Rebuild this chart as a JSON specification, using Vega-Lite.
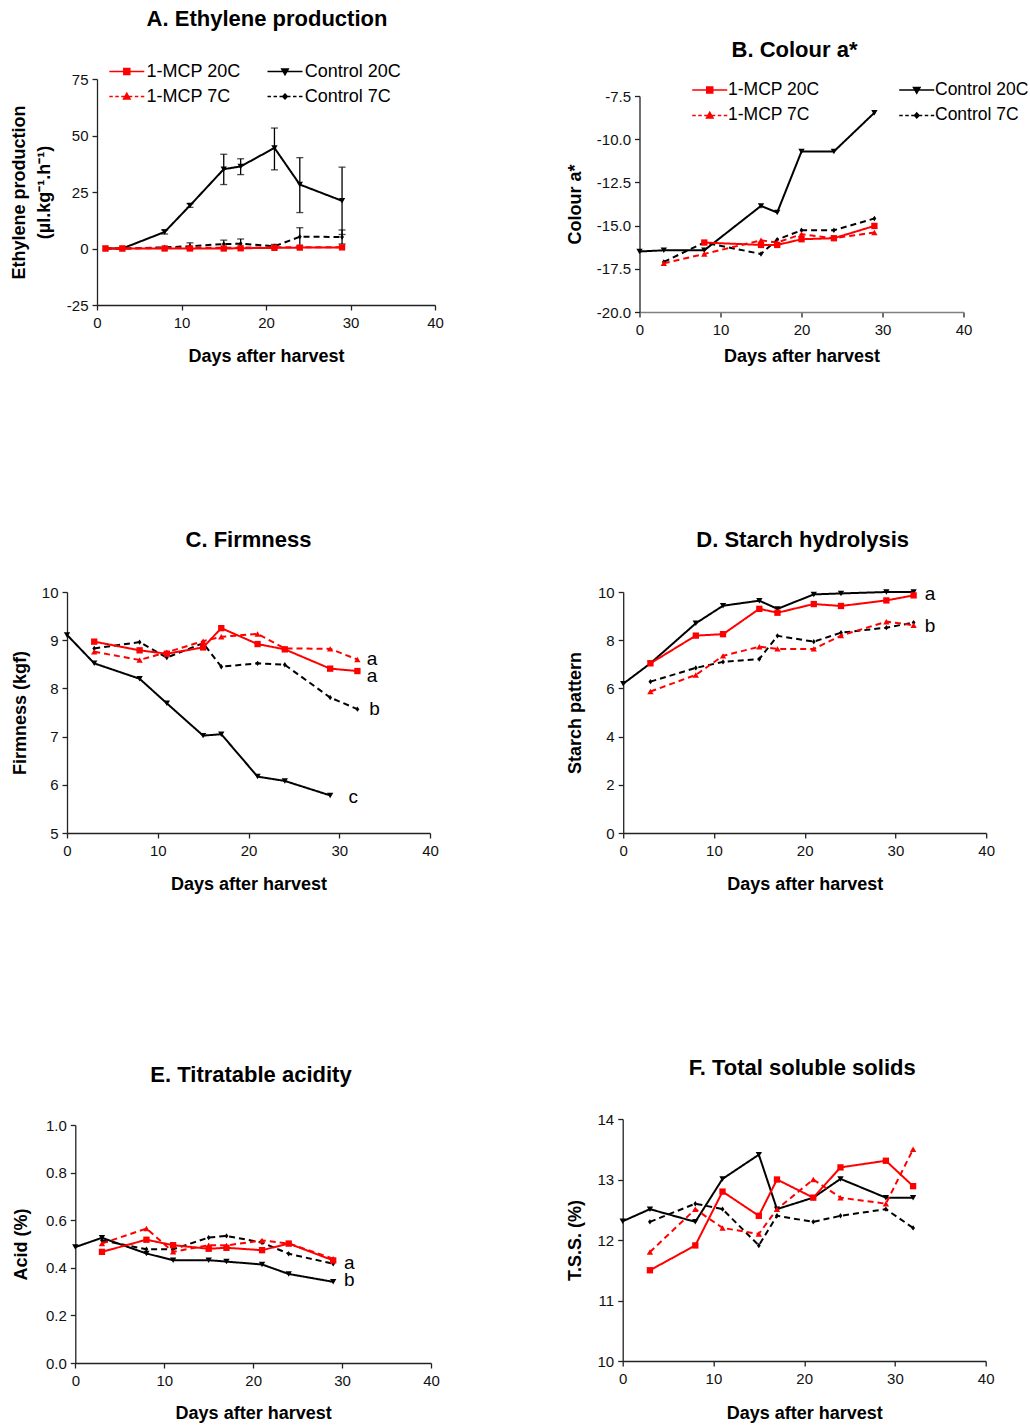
{
"$schema": "https://vega.github.io/schema/vega-lite/v6.json",
"background": "white",
"padding": {"left": 10, "top": 7, "right": 0, "bottom": 0},
"config": {
  "font": "Liberation Sans",
  "locale": {"number": {"decimal": ".", "thousands": ",", "grouping": [3], "currency": ["$", ""], "minus": "-"}},
  "view": {"stroke": null},
  "axis": {"grid": false, "domainColor": "#222222", "tickColor": "#222222", "domainWidth": 1.3, "tickWidth": 1.3, "tickSize": 5, "labelFont": "Liberation Sans", "labelFontSize": 15, "labelColor": "#111111", "titleFont": "Liberation Sans", "titleFontSize": 18, "titleFontWeight": "bold", "titleColor": "#000000"},
  "axisX": {"labelPadding": 5, "titlePadding": 15, "labelFlush": false},
  "axisY": {"labelPadding": 4, "titlePadding": 12},
  "title": {"font": "Liberation Sans", "fontSize": 22, "fontWeight": "bold", "color": "#000000", "anchor": "middle", "frame": "group"}
},
"datasets": {
  "eth": [
    {"s":"Control 20C","d":1,"v":0},{"s":"Control 20C","d":3,"v":0},{"s":"Control 20C","d":8,"v":7.3},{"s":"Control 20C","d":11,"v":19},{"s":"Control 20C","d":15,"v":35.1},{"s":"Control 20C","d":17,"v":36.3},{"s":"Control 20C","d":21,"v":44.5},{"s":"Control 20C","d":24,"v":28.3},{"s":"Control 20C","d":29,"v":21.1},
    {"s":"Control 7C","d":1,"v":0},{"s":"Control 7C","d":3,"v":0},{"s":"Control 7C","d":8,"v":0.5},{"s":"Control 7C","d":11,"v":1},{"s":"Control 7C","d":15,"v":2},{"s":"Control 7C","d":17,"v":2.1},{"s":"Control 7C","d":21,"v":1},{"s":"Control 7C","d":24,"v":5.2},{"s":"Control 7C","d":29,"v":5.1},
    {"s":"1-MCP 7C","d":1,"v":0},{"s":"1-MCP 7C","d":3,"v":0},{"s":"1-MCP 7C","d":8,"v":0.2},{"s":"1-MCP 7C","d":11,"v":0.3},{"s":"1-MCP 7C","d":15,"v":0.3},{"s":"1-MCP 7C","d":17,"v":0.4},{"s":"1-MCP 7C","d":21,"v":0.5},{"s":"1-MCP 7C","d":24,"v":0.6},{"s":"1-MCP 7C","d":29,"v":0.6},
    {"s":"1-MCP 20C","d":1,"v":0},{"s":"1-MCP 20C","d":3,"v":0},{"s":"1-MCP 20C","d":8,"v":0},{"s":"1-MCP 20C","d":11,"v":0},{"s":"1-MCP 20C","d":15,"v":0},{"s":"1-MCP 20C","d":17,"v":0.1},{"s":"1-MCP 20C","d":21,"v":0.3},{"s":"1-MCP 20C","d":24,"v":0.4},{"s":"1-MCP 20C","d":29,"v":0.5}
  ],
  "ethErr": [
    {"s":"Control 20C","d":8,"lo":6.4,"hi":8.2},{"s":"Control 20C","d":11,"lo":18.2,"hi":19.8},{"s":"Control 20C","d":15,"lo":28.3,"hi":41.7},{"s":"Control 20C","d":17,"lo":32.7,"hi":39.7},{"s":"Control 20C","d":21,"lo":34.8,"hi":53.3},{"s":"Control 20C","d":24,"lo":15.9,"hi":40.2},{"s":"Control 20C","d":29,"lo":6.2,"hi":36},
    {"s":"Control 7C","d":11,"lo":-0.5,"hi":2.5},{"s":"Control 7C","d":15,"lo":0.3,"hi":3.7},{"s":"Control 7C","d":17,"lo":0,"hi":4.2},{"s":"Control 7C","d":21,"lo":0.2,"hi":1.8},{"s":"Control 7C","d":24,"lo":1.2,"hi":9.2},{"s":"Control 7C","d":29,"lo":2,"hi":8.2}
  ],
  "col": [
    {"s":"Control 20C","d":0,"v":-16.5},{"s":"Control 20C","d":3,"v":-16.43},{"s":"Control 20C","d":8,"v":-16.43},{"s":"Control 20C","d":15,"v":-13.86},{"s":"Control 20C","d":17,"v":-14.24},{"s":"Control 20C","d":20,"v":-10.71},{"s":"Control 20C","d":24,"v":-10.71},{"s":"Control 20C","d":29,"v":-8.47},
    {"s":"Control 7C","d":3,"v":-17.1},{"s":"Control 7C","d":8,"v":-15.98},{"s":"Control 7C","d":15,"v":-16.64},{"s":"Control 7C","d":17,"v":-15.81},{"s":"Control 7C","d":20,"v":-15.27},{"s":"Control 7C","d":24,"v":-15.27},{"s":"Control 7C","d":29,"v":-14.59},
    {"s":"1-MCP 7C","d":3,"v":-17.18},{"s":"1-MCP 7C","d":8,"v":-16.64},{"s":"1-MCP 7C","d":15,"v":-15.85},{"s":"1-MCP 7C","d":17,"v":-15.98},{"s":"1-MCP 7C","d":20,"v":-15.5},{"s":"1-MCP 7C","d":24,"v":-15.73},{"s":"1-MCP 7C","d":29,"v":-15.4},
    {"s":"1-MCP 20C","d":8,"v":-15.98},{"s":"1-MCP 20C","d":15,"v":-16.12},{"s":"1-MCP 20C","d":17,"v":-16.12},{"s":"1-MCP 20C","d":20,"v":-15.79},{"s":"1-MCP 20C","d":24,"v":-15.73},{"s":"1-MCP 20C","d":29,"v":-15.02}
  ],
  "firm": [
    {"s":"Control 20C","d":0,"v":9.11},{"s":"Control 20C","d":3,"v":8.52},{"s":"Control 20C","d":8,"v":8.2},{"s":"Control 20C","d":11,"v":7.69},{"s":"Control 20C","d":15,"v":7.02},{"s":"Control 20C","d":17,"v":7.05},{"s":"Control 20C","d":21,"v":6.17},{"s":"Control 20C","d":24,"v":6.08},{"s":"Control 20C","d":29,"v":5.78},
    {"s":"Control 7C","d":3,"v":8.83},{"s":"Control 7C","d":8,"v":8.96},{"s":"Control 7C","d":11,"v":8.64},{"s":"Control 7C","d":15,"v":8.94},{"s":"Control 7C","d":17,"v":8.45},{"s":"Control 7C","d":21,"v":8.52},{"s":"Control 7C","d":24,"v":8.49},{"s":"Control 7C","d":29,"v":7.81},{"s":"Control 7C","d":32,"v":7.57},
    {"s":"1-MCP 7C","d":3,"v":8.76},{"s":"1-MCP 7C","d":8,"v":8.59},{"s":"1-MCP 7C","d":11,"v":8.75},{"s":"1-MCP 7C","d":15,"v":8.98},{"s":"1-MCP 7C","d":17,"v":9.07},{"s":"1-MCP 7C","d":21,"v":9.13},{"s":"1-MCP 7C","d":24,"v":8.83},{"s":"1-MCP 7C","d":29,"v":8.82},{"s":"1-MCP 7C","d":32,"v":8.6},
    {"s":"1-MCP 20C","d":3,"v":8.97},{"s":"1-MCP 20C","d":8,"v":8.79},{"s":"1-MCP 20C","d":11,"v":8.72},{"s":"1-MCP 20C","d":15,"v":8.85},{"s":"1-MCP 20C","d":17,"v":9.25},{"s":"1-MCP 20C","d":21,"v":8.92},{"s":"1-MCP 20C","d":24,"v":8.81},{"s":"1-MCP 20C","d":29,"v":8.41},{"s":"1-MCP 20C","d":32,"v":8.36}
  ],
  "firmLet": [{"d":33.6,"v":8.49,"t":"a"},{"d":33.6,"v":8.14,"t":"a"},{"d":33.9,"v":7.45,"t":"b"},{"d":31.55,"v":5.63,"t":"c"}],
  "starch": [
    {"s":"Control 20C","d":0,"v":6.19},{"s":"Control 20C","d":3,"v":7.04},{"s":"Control 20C","d":8,"v":8.7},{"s":"Control 20C","d":11,"v":9.43},{"s":"Control 20C","d":15,"v":9.64},{"s":"Control 20C","d":17,"v":9.3},{"s":"Control 20C","d":21,"v":9.9},{"s":"Control 20C","d":24,"v":9.94},{"s":"Control 20C","d":29,"v":10},{"s":"Control 20C","d":32,"v":10},
    {"s":"Control 7C","d":3,"v":6.28},{"s":"Control 7C","d":8,"v":6.85},{"s":"Control 7C","d":11,"v":7.1},{"s":"Control 7C","d":15,"v":7.22},{"s":"Control 7C","d":17,"v":8.18},{"s":"Control 7C","d":21,"v":7.94},{"s":"Control 7C","d":24,"v":8.31},{"s":"Control 7C","d":29,"v":8.52},{"s":"Control 7C","d":32,"v":8.73},
    {"s":"1-MCP 7C","d":3,"v":5.87},{"s":"1-MCP 7C","d":8,"v":6.56},{"s":"1-MCP 7C","d":11,"v":7.35},{"s":"1-MCP 7C","d":15,"v":7.73},{"s":"1-MCP 7C","d":17,"v":7.64},{"s":"1-MCP 7C","d":21,"v":7.64},{"s":"1-MCP 7C","d":24,"v":8.19},{"s":"1-MCP 7C","d":29,"v":8.77},{"s":"1-MCP 7C","d":32,"v":8.62},
    {"s":"1-MCP 20C","d":3,"v":7.04},{"s":"1-MCP 20C","d":8,"v":8.19},{"s":"1-MCP 20C","d":11,"v":8.25},{"s":"1-MCP 20C","d":15,"v":9.3},{"s":"1-MCP 20C","d":17,"v":9.14},{"s":"1-MCP 20C","d":21,"v":9.5},{"s":"1-MCP 20C","d":24,"v":9.42},{"s":"1-MCP 20C","d":29,"v":9.65},{"s":"1-MCP 20C","d":32,"v":9.86}
  ],
  "starchLet": [{"d":33.8,"v":9.67,"t":"a"},{"d":33.8,"v":8.35,"t":"b"}],
  "acid": [
    {"s":"Control 20C","d":0,"v":0.487},{"s":"Control 20C","d":3,"v":0.526},{"s":"Control 20C","d":8,"v":0.46},{"s":"Control 20C","d":11,"v":0.432},{"s":"Control 20C","d":15,"v":0.432},{"s":"Control 20C","d":17,"v":0.426},{"s":"Control 20C","d":21,"v":0.414},{"s":"Control 20C","d":24,"v":0.374},{"s":"Control 20C","d":29,"v":0.341},
    {"s":"Control 7C","d":3,"v":0.515},{"s":"Control 7C","d":8,"v":0.478},{"s":"Control 7C","d":11,"v":0.478},{"s":"Control 7C","d":15,"v":0.527},{"s":"Control 7C","d":17,"v":0.534},{"s":"Control 7C","d":21,"v":0.506},{"s":"Control 7C","d":24,"v":0.459},{"s":"Control 7C","d":29,"v":0.417},
    {"s":"1-MCP 7C","d":3,"v":0.502},{"s":"1-MCP 7C","d":8,"v":0.565},{"s":"1-MCP 7C","d":11,"v":0.467},{"s":"1-MCP 7C","d":15,"v":0.495},{"s":"1-MCP 7C","d":17,"v":0.494},{"s":"1-MCP 7C","d":21,"v":0.515},{"s":"1-MCP 7C","d":24,"v":0.502},{"s":"1-MCP 7C","d":29,"v":0.438},
    {"s":"1-MCP 20C","d":3,"v":0.467},{"s":"1-MCP 20C","d":8,"v":0.518},{"s":"1-MCP 20C","d":11,"v":0.495},{"s":"1-MCP 20C","d":15,"v":0.48},{"s":"1-MCP 20C","d":17,"v":0.484},{"s":"1-MCP 20C","d":21,"v":0.474},{"s":"1-MCP 20C","d":24,"v":0.502},{"s":"1-MCP 20C","d":29,"v":0.431}
  ],
  "acidLet": [{"d":30.8,"v":0.395,"t":"a"},{"d":30.8,"v":0.323,"t":"b"}],
  "tss": [
    {"s":"Control 20C","d":0,"v":12.31},{"s":"Control 20C","d":3,"v":12.51},{"s":"Control 20C","d":8,"v":12.3},{"s":"Control 20C","d":11,"v":13.01},{"s":"Control 20C","d":15,"v":13.41},{"s":"Control 20C","d":17,"v":12.51},{"s":"Control 20C","d":21,"v":12.7},{"s":"Control 20C","d":24,"v":13.01},{"s":"Control 20C","d":29,"v":12.7},{"s":"Control 20C","d":32,"v":12.7},
    {"s":"Control 7C","d":3,"v":12.3},{"s":"Control 7C","d":8,"v":12.6},{"s":"Control 7C","d":11,"v":12.51},{"s":"Control 7C","d":15,"v":11.91},{"s":"Control 7C","d":17,"v":12.4},{"s":"Control 7C","d":21,"v":12.3},{"s":"Control 7C","d":24,"v":12.4},{"s":"Control 7C","d":29,"v":12.51},{"s":"Control 7C","d":32,"v":12.2},
    {"s":"1-MCP 7C","d":3,"v":11.8},{"s":"1-MCP 7C","d":8,"v":12.51},{"s":"1-MCP 7C","d":11,"v":12.2},{"s":"1-MCP 7C","d":15,"v":12.1},{"s":"1-MCP 7C","d":17,"v":12.51},{"s":"1-MCP 7C","d":21,"v":13.0},{"s":"1-MCP 7C","d":24,"v":12.7},{"s":"1-MCP 7C","d":29,"v":12.6},{"s":"1-MCP 7C","d":32,"v":13.5},
    {"s":"1-MCP 20C","d":3,"v":11.5},{"s":"1-MCP 20C","d":8,"v":11.91},{"s":"1-MCP 20C","d":11,"v":12.8},{"s":"1-MCP 20C","d":15,"v":12.4},{"s":"1-MCP 20C","d":17,"v":13.0},{"s":"1-MCP 20C","d":21,"v":12.7},{"s":"1-MCP 20C","d":24,"v":13.2},{"s":"1-MCP 20C","d":29,"v":13.31},{"s":"1-MCP 20C","d":32,"v":12.89}
  ]
},
"align": "none",
"spacing": 163,
"resolve": {"scale": {"color": "independent", "shape": "independent", "strokeDash": "independent"}},
"vconcat": [
 {
  "hconcat": [
   {
    "width": 368, "height": 226,
    "title": {"text": "A. Ethylene production", "offset": 32, "dx": 16},
    "resolve": {"scale": {"shape": "independent"}},
    "layer": [
     {"data": {"name": "ethErr"}, "mark": {"type": "rule", "strokeWidth": 1.3},
      "encoding": {
        "x": {"field": "d", "type": "quantitative", "scale": {"domain": [0, 40], "range": [30, 368], "nice": false, "zero": false}},
        "y": {"field": "lo", "type": "quantitative", "scale": {"domain": [-25, 75], "nice": false, "zero": false}},
        "y2": {"field": "hi"},
        "color": {"field": "s", "type": "nominal", "scale": {"domain": ["1-MCP 20C", "Control 20C", "1-MCP 7C", "Control 7C"], "range": ["#ff0000", "#000000", "#ff0000", "#000000"]}, "legend": null}}},
     {"data": {"name": "ethErr"}, "mark": {"type": "tick", "orient": "horizontal", "size": 7, "thickness": 1.3},
      "encoding": {
        "x": {"field": "d", "type": "quantitative", "scale": {"domain": [0, 40], "range": [30, 368], "nice": false, "zero": false}},
        "y": {"field": "hi", "type": "quantitative", "scale": {"domain": [-25, 75], "nice": false, "zero": false}},
        "color": {"field": "s", "type": "nominal", "scale": {"domain": ["1-MCP 20C", "Control 20C", "1-MCP 7C", "Control 7C"], "range": ["#ff0000", "#000000", "#ff0000", "#000000"]}, "legend": null}}},
     {"data": {"name": "ethErr"}, "mark": {"type": "tick", "orient": "horizontal", "size": 7, "thickness": 1.3},
      "encoding": {
        "x": {"field": "d", "type": "quantitative", "scale": {"domain": [0, 40], "range": [30, 368], "nice": false, "zero": false}},
        "y": {"field": "lo", "type": "quantitative", "scale": {"domain": [-25, 75], "nice": false, "zero": false}},
        "color": {"field": "s", "type": "nominal", "scale": {"domain": ["1-MCP 20C", "Control 20C", "1-MCP 7C", "Control 7C"], "range": ["#ff0000", "#000000", "#ff0000", "#000000"]}, "legend": null}}},
     {"data": {"name": "eth"}, "mark": {"type": "line", "strokeWidth": 2},
      "encoding": {
        "x": {"field": "d", "type": "quantitative", "scale": {"domain": [0, 40], "range": [30, 368], "nice": false, "zero": false}, "axis": {"title": "Days after harvest", "values": [0, 10, 20, 30, 40], "titlePadding": 17}},
        "y": {"field": "v", "type": "quantitative", "scale": {"domain": [-25, 75], "nice": false, "zero": false}, "axis": {"title": ["Ethylene production", "(µl.kg⁻¹.h⁻¹)"], "titleLineHeight": 25, "values": [-25, 0, 25, 50, 75], "offset": -30, "titlePadding": 13}},
        "color": {"field": "s", "type": "nominal", "scale": {"domain": ["1-MCP 20C", "Control 20C", "1-MCP 7C", "Control 7C"], "range": ["#ff0000", "#000000", "#ff0000", "#000000"]}, "legend": null},
        "strokeDash": {"field": "s", "type": "nominal", "scale": {"domain": ["1-MCP 20C", "Control 20C", "1-MCP 7C", "Control 7C"], "range": [[1, 0], [1, 0], [6, 4], [6, 4]]}, "legend": null}}},
     {"data": {"name": "eth"}, "mark": {"type": "point", "filled": true, "size": 40, "opacity": 1},
      "encoding": {
        "x": {"field": "d", "type": "quantitative", "scale": {"domain": [0, 40], "range": [30, 368], "nice": false, "zero": false}},
        "y": {"field": "v", "type": "quantitative", "scale": {"domain": [-25, 75], "nice": false, "zero": false}},
        "color": {"field": "s", "type": "nominal", "scale": {"domain": ["1-MCP 20C", "Control 20C", "1-MCP 7C", "Control 7C"], "range": ["#ff0000", "#000000", "#ff0000", "#000000"]}, "legend": null},
        "shape": {"field": "s", "type": "nominal", "scale": {"domain": ["1-MCP 20C", "Control 20C", "1-MCP 7C", "Control 7C"], "range": ["square", "triangle-down", "triangle-up", "M0,-0.85L0.6,0L0,0.85L-0.6,0Z"]}, "legend": null}}},
     {"data": {"name": "eth"}, "transform": [{"filter": {"field": "s", "oneOf": ["1-MCP 20C", "1-MCP 7C"]}}],
      "mark": {"type": "point", "filled": true, "fill": "#ff0000", "stroke": "#ff0000", "strokeWidth": 1.5, "opacity": 0, "size": 100},
      "encoding": {
        "x": {"field": "d", "type": "quantitative", "scale": {"domain": [0, 40], "range": [30, 368], "nice": false, "zero": false}},
        "y": {"field": "v", "type": "quantitative", "scale": {"domain": [-25, 75], "nice": false, "zero": false}},
        "shape": {"field": "s", "type": "nominal", "scale": {"domain": ["1-MCP 20C", "1-MCP 7C"], "range": ["M-1,0H6M1.9,-0.6H3.1V0.6H1.9Z", "M-1,0H-0.3M0.2,0H0.9M1.4,0H3.6M4.1,0H4.8M5.3,0H6M1.85,0.5H3.15L2.5,-0.65Z"]},
          "legend": {"orient": "none", "legendX": 38.3, "legendY": -16.5, "title": null, "padding": 0, "labelFont": "Liberation Sans", "labelFontSize": 18, "labelColor": "#000000", "symbolSize": 100, "symbolStrokeWidth": 1.5, "symbolOpacity": 1, "labelOffset": 23.3, "rowPadding": 7}}}},
     {"data": {"name": "eth"}, "transform": [{"filter": {"field": "s", "oneOf": ["Control 20C", "Control 7C"]}}],
      "mark": {"type": "point", "filled": true, "fill": "#000000", "stroke": "#000000", "strokeWidth": 1.5, "opacity": 0, "size": 100},
      "encoding": {
        "x": {"field": "d", "type": "quantitative", "scale": {"domain": [0, 40], "range": [30, 368], "nice": false, "zero": false}},
        "y": {"field": "v", "type": "quantitative", "scale": {"domain": [-25, 75], "nice": false, "zero": false}},
        "shape": {"field": "s", "type": "nominal", "scale": {"domain": ["Control 20C", "Control 7C"], "range": ["M-1,0H6M1.85,-0.5H3.15L2.5,0.65Z", "M-1,0H-0.3M0.2,0H0.9M1.4,0H3.6M4.1,0H4.8M5.3,0H6M2.5,-0.5L2.95,0L2.5,0.5L2.05,0Z"]},
          "legend": {"orient": "none", "legendX": 196.5, "legendY": -16.5, "title": null, "padding": 0, "labelFont": "Liberation Sans", "labelFontSize": 18, "labelColor": "#000000", "symbolSize": 100, "symbolStrokeWidth": 1.5, "symbolOpacity": 1, "labelOffset": 23.3, "rowPadding": 7}}}}
    ]
   },
   {
    "width": 324, "height": 233,
    "title": {"text": "B. Colour a*", "offset": 17, "dx": -7},
    "data": {"name": "col"},
    "resolve": {"scale": {"shape": "independent"}},
    "layer": [
     {"mark": {"type": "line", "strokeWidth": 2},
      "encoding": {
        "x": {"field": "d", "type": "quantitative", "scale": {"domain": [0, 40], "nice": false, "zero": false}, "axis": {"title": "Days after harvest", "values": [0, 10, 20, 30, 40], "titlePadding": 10, "domainColor": "#808080"}},
        "y": {"field": "v", "type": "quantitative", "scale": {"domain": [-20, -7.5], "range": [233, 17], "nice": false, "zero": false}, "axis": {"title": "Colour a*", "values": [-20, -17.5, -15, -12.5, -10, -7.5], "format": ".1f", "titlePadding": 12}},
        "color": {"field": "s", "type": "nominal", "scale": {"domain": ["1-MCP 20C", "Control 20C", "1-MCP 7C", "Control 7C"], "range": ["#ff0000", "#000000", "#ff0000", "#000000"]}, "legend": null},
        "strokeDash": {"field": "s", "type": "nominal", "scale": {"domain": ["1-MCP 20C", "Control 20C", "1-MCP 7C", "Control 7C"], "range": [[1, 0], [1, 0], [6, 4], [6, 4]]}, "legend": null}}},
     {"mark": {"type": "point", "filled": true, "size": 40, "opacity": 1},
      "encoding": {
        "x": {"field": "d", "type": "quantitative", "scale": {"domain": [0, 40], "nice": false, "zero": false}},
        "y": {"field": "v", "type": "quantitative", "scale": {"domain": [-20, -7.5], "range": [233, 17], "nice": false, "zero": false}},
        "color": {"field": "s", "type": "nominal", "scale": {"domain": ["1-MCP 20C", "Control 20C", "1-MCP 7C", "Control 7C"], "range": ["#ff0000", "#000000", "#ff0000", "#000000"]}, "legend": null},
        "shape": {"field": "s", "type": "nominal", "scale": {"domain": ["1-MCP 20C", "Control 20C", "1-MCP 7C", "Control 7C"], "range": ["square", "triangle-down", "triangle-up", "M0,-0.85L0.6,0L0,0.85L-0.6,0Z"]}, "legend": null}}},
     {"transform": [{"filter": {"field": "s", "oneOf": ["1-MCP 20C", "1-MCP 7C"]}}],
      "mark": {"type": "point", "filled": true, "fill": "#ff0000", "stroke": "#ff0000", "strokeWidth": 1.5, "opacity": 0, "size": 100},
      "encoding": {
        "x": {"field": "d", "type": "quantitative", "scale": {"domain": [0, 40], "nice": false, "zero": false}},
        "y": {"field": "v", "type": "quantitative", "scale": {"domain": [-20, -7.5], "range": [233, 17], "nice": false, "zero": false}},
        "shape": {"field": "s", "type": "nominal", "scale": {"domain": ["1-MCP 20C", "1-MCP 7C"], "range": ["M-1,0H6M1.9,-0.6H3.1V0.6H1.9Z", "M-1,0H-0.3M0.2,0H0.9M1.4,0H3.6M4.1,0H4.8M5.3,0H6M1.85,0.5H3.15L2.5,-0.65Z"]},
          "legend": {"orient": "none", "legendX": 49, "legendY": 2.2, "title": null, "padding": 0, "labelFont": "Liberation Sans", "labelFontSize": 17.5, "labelColor": "#000000", "symbolSize": 100, "symbolStrokeWidth": 1.5, "symbolOpacity": 1, "labelOffset": 22, "rowPadding": 6.5}}}},
     {"transform": [{"filter": {"field": "s", "oneOf": ["Control 20C", "Control 7C"]}}],
      "mark": {"type": "point", "filled": true, "fill": "#000000", "stroke": "#000000", "strokeWidth": 1.5, "opacity": 0, "size": 100},
      "encoding": {
        "x": {"field": "d", "type": "quantitative", "scale": {"domain": [0, 40], "nice": false, "zero": false}},
        "y": {"field": "v", "type": "quantitative", "scale": {"domain": [-20, -7.5], "range": [233, 17], "nice": false, "zero": false}},
        "shape": {"field": "s", "type": "nominal", "scale": {"domain": ["Control 20C", "Control 7C"], "range": ["M-1,0H6M1.85,-0.5H3.15L2.5,0.65Z", "M-1,0H-0.3M0.2,0H0.9M1.4,0H3.6M4.1,0H4.8M5.3,0H6M2.5,-0.5L2.95,0L2.5,0.5L2.05,0Z"]},
          "legend": {"orient": "none", "legendX": 256, "legendY": 2.2, "title": null, "padding": 0, "labelFont": "Liberation Sans", "labelFontSize": 17.5, "labelColor": "#000000", "symbolSize": 100, "symbolStrokeWidth": 1.5, "symbolOpacity": 1, "labelOffset": 22, "rowPadding": 6.5}}}}
    ]
   }
  ],
  "spacing": 121.5, "align": "none",
  "resolve": {"scale": {"color": "independent", "shape": "independent", "strokeDash": "independent"}}
 },
 {
  "hconcat": [
   {
    "width": 363, "height": 241,
    "title": {"text": "C. Firmness", "offset": 33},
    "layer": [
     {"data": {"name": "firm"}, "mark": {"type": "line", "strokeWidth": 2},
      "encoding": {
        "x": {"field": "d", "type": "quantitative", "scale": {"domain": [0, 40], "nice": false, "zero": false}, "axis": {"title": "Days after harvest", "values": [0, 10, 20, 30, 40], "titlePadding": 17}},
        "y": {"field": "v", "type": "quantitative", "scale": {"domain": [5, 10], "nice": false, "zero": false}, "axis": {"title": "Firmness (kgf)", "values": [5, 6, 7, 8, 9, 10], "titlePadding": 12}},
        "color": {"field": "s", "type": "nominal", "scale": {"domain": ["1-MCP 20C", "Control 20C", "1-MCP 7C", "Control 7C"], "range": ["#ff0000", "#000000", "#ff0000", "#000000"]}, "legend": null},
        "strokeDash": {"field": "s", "type": "nominal", "scale": {"domain": ["1-MCP 20C", "Control 20C", "1-MCP 7C", "Control 7C"], "range": [[1, 0], [1, 0], [6, 4], [6, 4]]}, "legend": null}}},
     {"data": {"name": "firm"}, "mark": {"type": "point", "filled": true, "size": 40, "opacity": 1},
      "encoding": {
        "x": {"field": "d", "type": "quantitative", "scale": {"domain": [0, 40], "nice": false, "zero": false}},
        "y": {"field": "v", "type": "quantitative", "scale": {"domain": [5, 10], "nice": false, "zero": false}},
        "color": {"field": "s", "type": "nominal", "scale": {"domain": ["1-MCP 20C", "Control 20C", "1-MCP 7C", "Control 7C"], "range": ["#ff0000", "#000000", "#ff0000", "#000000"]}, "legend": null},
        "shape": {"field": "s", "type": "nominal", "scale": {"domain": ["1-MCP 20C", "Control 20C", "1-MCP 7C", "Control 7C"], "range": ["square", "triangle-down", "triangle-up", "M0,-0.85L0.6,0L0,0.85L-0.6,0Z"]}, "legend": null}}},
     {"data": {"name": "firmLet"}, "mark": {"type": "text", "font": "Liberation Sans", "fontSize": 19, "align": "center", "baseline": "alphabetic", "color": "#000000"},
      "encoding": {
        "x": {"field": "d", "type": "quantitative", "scale": {"domain": [0, 40], "nice": false, "zero": false}},
        "y": {"field": "v", "type": "quantitative", "scale": {"domain": [5, 10], "nice": false, "zero": false}},
        "text": {"field": "t"}}}
    ]
   },
   {
    "width": 363, "height": 241,
    "title": {"text": "D. Starch hydrolysis", "offset": 33, "dx": -2},
    "layer": [
     {"data": {"name": "starch"}, "mark": {"type": "line", "strokeWidth": 2},
      "encoding": {
        "x": {"field": "d", "type": "quantitative", "scale": {"domain": [0, 40], "nice": false, "zero": false}, "axis": {"title": "Days after harvest", "values": [0, 10, 20, 30, 40], "titlePadding": 17}},
        "y": {"field": "v", "type": "quantitative", "scale": {"domain": [0, 10], "nice": false, "zero": false}, "axis": {"title": "Starch pattern", "values": [0, 2, 4, 6, 8, 10], "titlePadding": 13}},
        "color": {"field": "s", "type": "nominal", "scale": {"domain": ["1-MCP 20C", "Control 20C", "1-MCP 7C", "Control 7C"], "range": ["#ff0000", "#000000", "#ff0000", "#000000"]}, "legend": null},
        "strokeDash": {"field": "s", "type": "nominal", "scale": {"domain": ["1-MCP 20C", "Control 20C", "1-MCP 7C", "Control 7C"], "range": [[1, 0], [1, 0], [6, 4], [6, 4]]}, "legend": null}}},
     {"data": {"name": "starch"}, "mark": {"type": "point", "filled": true, "size": 40, "opacity": 1},
      "encoding": {
        "x": {"field": "d", "type": "quantitative", "scale": {"domain": [0, 40], "nice": false, "zero": false}},
        "y": {"field": "v", "type": "quantitative", "scale": {"domain": [0, 10], "nice": false, "zero": false}},
        "color": {"field": "s", "type": "nominal", "scale": {"domain": ["1-MCP 20C", "Control 20C", "1-MCP 7C", "Control 7C"], "range": ["#ff0000", "#000000", "#ff0000", "#000000"]}, "legend": null},
        "shape": {"field": "s", "type": "nominal", "scale": {"domain": ["1-MCP 20C", "Control 20C", "1-MCP 7C", "Control 7C"], "range": ["square", "triangle-down", "triangle-up", "M0,-0.85L0.6,0L0,0.85L-0.6,0Z"]}, "legend": null}}},
     {"data": {"name": "starchLet"}, "mark": {"type": "text", "font": "Liberation Sans", "fontSize": 19, "align": "center", "baseline": "alphabetic", "color": "#000000"},
      "encoding": {
        "x": {"field": "d", "type": "quantitative", "scale": {"domain": [0, 40], "nice": false, "zero": false}},
        "y": {"field": "v", "type": "quantitative", "scale": {"domain": [0, 10], "nice": false, "zero": false}},
        "text": {"field": "t"}}}
    ]
   }
  ],
  "spacing": 127.2, "align": "none",
  "resolve": {"scale": {"color": "independent", "shape": "independent", "strokeDash": "independent"}}
 },
 {
  "hconcat": [
   {
    "width": 364, "height": 244,
    "title": {"text": "E. Titratable acidity", "offset": 31.3, "dx": 2},
    "layer": [
     {"data": {"name": "acid"}, "mark": {"type": "line", "strokeWidth": 2},
      "encoding": {
        "x": {"field": "d", "type": "quantitative", "scale": {"domain": [0, 40], "range": [8.3, 364], "nice": false, "zero": false}, "axis": {"title": "Days after harvest", "values": [0, 10, 20, 30, 40], "titlePadding": 16}},
        "y": {"field": "v", "type": "quantitative", "scale": {"domain": [0, 1], "range": [244, 6], "nice": false, "zero": false}, "axis": {"title": "Acid (%)", "values": [0, 0.2, 0.4, 0.6, 0.8, 1], "format": ".1f", "offset": -8.3, "titlePadding": 15}},
        "color": {"field": "s", "type": "nominal", "scale": {"domain": ["1-MCP 20C", "Control 20C", "1-MCP 7C", "Control 7C"], "range": ["#ff0000", "#000000", "#ff0000", "#000000"]}, "legend": null},
        "strokeDash": {"field": "s", "type": "nominal", "scale": {"domain": ["1-MCP 20C", "Control 20C", "1-MCP 7C", "Control 7C"], "range": [[1, 0], [1, 0], [6, 4], [6, 4]]}, "legend": null}}},
     {"data": {"name": "acid"}, "mark": {"type": "point", "filled": true, "size": 40, "opacity": 1},
      "encoding": {
        "x": {"field": "d", "type": "quantitative", "scale": {"domain": [0, 40], "range": [8.3, 364], "nice": false, "zero": false}},
        "y": {"field": "v", "type": "quantitative", "scale": {"domain": [0, 1], "range": [244, 6], "nice": false, "zero": false}},
        "color": {"field": "s", "type": "nominal", "scale": {"domain": ["1-MCP 20C", "Control 20C", "1-MCP 7C", "Control 7C"], "range": ["#ff0000", "#000000", "#ff0000", "#000000"]}, "legend": null},
        "shape": {"field": "s", "type": "nominal", "scale": {"domain": ["1-MCP 20C", "Control 20C", "1-MCP 7C", "Control 7C"], "range": ["square", "triangle-down", "triangle-up", "M0,-0.85L0.6,0L0,0.85L-0.6,0Z"]}, "legend": null}}},
     {"data": {"name": "acidLet"}, "mark": {"type": "text", "font": "Liberation Sans", "fontSize": 19, "align": "center", "baseline": "alphabetic", "color": "#000000"},
      "encoding": {
        "x": {"field": "d", "type": "quantitative", "scale": {"domain": [0, 40], "range": [8.3, 364], "nice": false, "zero": false}},
        "y": {"field": "v", "type": "quantitative", "scale": {"domain": [0, 1], "range": [244, 6], "nice": false, "zero": false}},
        "text": {"field": "t"}}}
    ]
   },
   {
    "width": 363, "height": 242,
    "title": {"text": "F. Total soluble solids", "offset": 32.3, "dx": -2},
    "layer": [
     {"data": {"name": "tss"}, "mark": {"type": "line", "strokeWidth": 2},
      "encoding": {
        "x": {"field": "d", "type": "quantitative", "scale": {"domain": [0, 40], "nice": false, "zero": false}, "axis": {"title": "Days after harvest", "values": [0, 10, 20, 30, 40], "titlePadding": 18.5}},
        "y": {"field": "v", "type": "quantitative", "scale": {"domain": [10, 14], "nice": false, "zero": false}, "axis": {"title": "T.S.S. (%)", "values": [10, 11, 12, 13, 14], "format": "d", "titlePadding": 13}},
        "color": {"field": "s", "type": "nominal", "scale": {"domain": ["1-MCP 20C", "Control 20C", "1-MCP 7C", "Control 7C"], "range": ["#ff0000", "#000000", "#ff0000", "#000000"]}, "legend": null},
        "strokeDash": {"field": "s", "type": "nominal", "scale": {"domain": ["1-MCP 20C", "Control 20C", "1-MCP 7C", "Control 7C"], "range": [[1, 0], [1, 0], [6, 4], [6, 4]]}, "legend": null}}},
     {"data": {"name": "tss"}, "mark": {"type": "point", "filled": true, "size": 40, "opacity": 1},
      "encoding": {
        "x": {"field": "d", "type": "quantitative", "scale": {"domain": [0, 40], "nice": false, "zero": false}},
        "y": {"field": "v", "type": "quantitative", "scale": {"domain": [10, 14], "nice": false, "zero": false}},
        "color": {"field": "s", "type": "nominal", "scale": {"domain": ["1-MCP 20C", "Control 20C", "1-MCP 7C", "Control 7C"], "range": ["#ff0000", "#000000", "#ff0000", "#000000"]}, "legend": null},
        "shape": {"field": "s", "type": "nominal", "scale": {"domain": ["1-MCP 20C", "Control 20C", "1-MCP 7C", "Control 7C"], "range": ["square", "triangle-down", "triangle-up", "M0,-0.85L0.6,0L0,0.85L-0.6,0Z"]}, "legend": null}}}
    ]
   }
  ],
  "spacing": 125.7, "align": "none",
  "resolve": {"scale": {"color": "independent", "shape": "independent", "strokeDash": "independent"}}
 }
]
}
